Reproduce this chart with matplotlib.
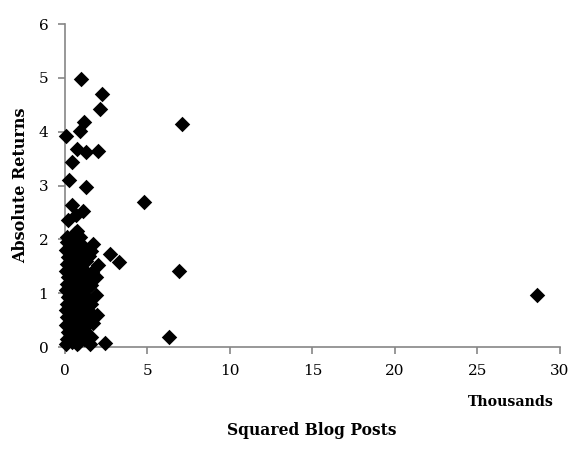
import matplotlib
matplotlib.use("Agg")
import matplotlib.pyplot as plt

# Squared blog posts (thousands) vs absolute returns
blog_posts_sq = [
    28.6, 7.1, 4.8, 6.9, 6.3, 2.4, 3.3, 2.7,
    2.24, 2.12, 0.97, 1.15, 0.9, 0.06, 0.73, 1.27, 2.0, 0.42, 0.24, 1.27,
    0.42, 1.09, 0.2, 0.73,
    0.05, 0.1, 0.2, 0.08, 0.15, 0.05, 0.12, 0.2, 0.05, 0.1, 0.18, 0.06,
    0.12, 0.2, 0.08, 0.15, 0.1,
    0.4, 0.5, 0.35, 0.55, 0.45, 0.6, 0.38, 0.52, 0.42, 0.6, 0.35, 0.5,
    0.62, 0.4, 0.55, 0.45, 0.6,
    0.8, 0.9, 0.75, 1.0, 0.85, 1.05, 0.8, 0.95, 0.78, 1.0, 0.85, 1.1,
    0.9, 0.8, 1.05, 0.9,
    1.2, 1.4, 1.3, 1.5, 1.25, 1.45, 1.2, 1.6, 1.35, 1.25, 1.45, 1.3,
    1.58, 1.94, 1.88, 2.0, 1.7, 1.55, 1.9, 1.1, 0.65, 0.3,
    0.3, 0.7, 1.15, 0.25, 0.7, 1.15, 0.3, 0.68, 1.12, 0.28, 0.72, 1.18,
    1.6, 1.7, 1.65, 1.5,
]
abs_returns = [
    0.97, 4.15, 2.7, 1.42, 0.19, 0.08, 1.58, 1.73,
    4.70, 4.43, 4.98, 4.18, 4.01, 3.92, 3.67, 3.62, 3.64, 3.44, 3.10, 2.98,
    2.64, 2.53, 2.36, 2.15,
    0.05, 0.15, 0.28, 0.40, 0.55, 0.68, 0.80, 0.92, 1.05, 1.17, 1.30, 1.42,
    1.55, 1.68, 1.80, 1.95, 2.05,
    0.10, 0.22, 0.35, 0.48, 0.62, 0.75, 0.88, 1.00, 1.12, 1.25, 1.38, 1.50,
    1.62, 1.75, 1.88, 2.00, 2.12,
    0.08, 0.20, 0.32, 0.45, 0.58, 0.70, 0.85, 0.98, 1.10, 1.22, 1.35, 1.45,
    1.60, 1.72, 1.85, 2.05,
    0.30, 0.42, 0.55, 0.65, 0.80, 0.90, 1.05, 1.15, 1.28, 1.60, 1.70, 1.10,
    0.19, 0.59, 0.97, 1.52, 1.91, 1.78, 1.30, 0.38, 2.45, 1.88,
    0.25, 0.40, 0.15, 0.95, 1.30, 0.60, 1.60, 1.95, 1.40, 0.70, 0.05, 1.85,
    0.80, 0.45, 1.40, 0.05,
]

x_ticks = [0, 5, 10, 15, 20, 25, 30]
y_ticks = [0, 1, 2, 3, 4, 5, 6]

serif = ["DejaVu Serif"]
axis_grey = "#868686"

fig = plt.figure(figsize=(5.73, 4.72), dpi=100)
ax = fig.add_axes([0.1134, 0.2648, 0.8638, 0.6842])

ax.scatter(blog_posts_sq, abs_returns, marker="D", s=62, color="black",
           linewidths=0, zorder=3, clip_on=False)

ax.set_xlim(0, 30)
ax.set_ylim(0, 6)
ax.set_xticks(x_ticks)
ax.set_yticks(y_ticks)
ax.set_xticklabels([str(t) for t in x_ticks], family=serif, fontsize=11)
ax.set_yticklabels([str(t) for t in y_ticks], family=serif, fontsize=11)

for side in ("top", "right"):
    ax.spines[side].set_visible(False)
for side in ("left", "bottom"):
    ax.spines[side].set_color(axis_grey)
    ax.spines[side].set_linewidth(1.2)
ax.tick_params(axis="both", direction="out", length=5, width=1.2,
               color=axis_grey, labelcolor="black", pad=7)

ax.set_ylabel("Absolute Returns", family=serif, fontsize=11.5,
              fontweight="bold", labelpad=7)
fig.text(0.5445, 0.088, "Squared Blog Posts", family=serif, fontsize=11.2,
         fontweight="bold", ha="center", va="center")
fig.text(0.966, 0.148, "Thousands", family=serif, fontsize=10.2,
         fontweight="bold", ha="right", va="center")

fig.savefig("out.png", dpi=100)
